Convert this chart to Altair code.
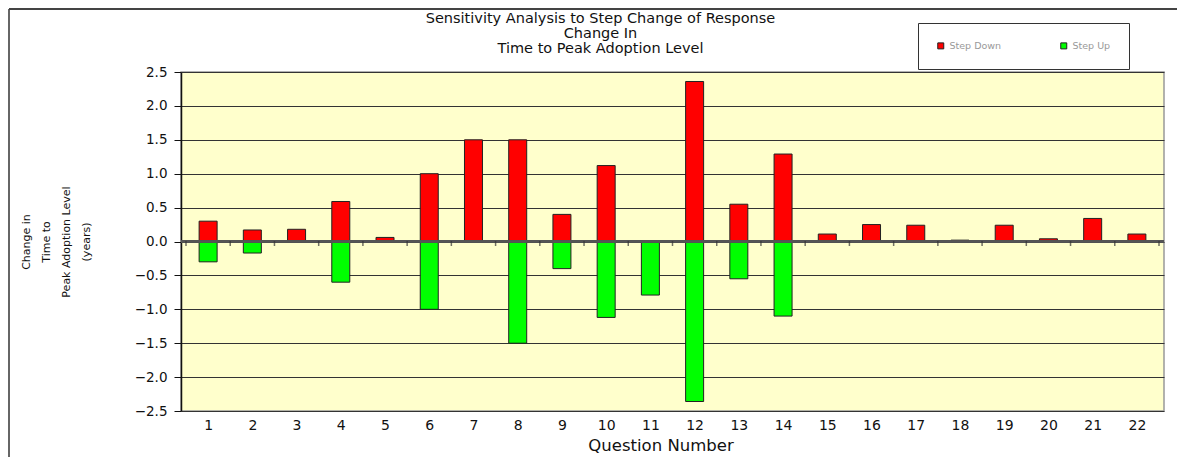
import altair as alt
import pandas as pd

questions = list(range(1, 23))
step_down = [0.30, 0.17, 0.18, 0.59, 0.06, 1.00, 1.50, 1.50, 0.40, 1.12, 0.00,
             2.36, 0.55, 1.29, 0.11, 0.25, 0.24, 0.02, 0.24, 0.04, 0.34, 0.11]
step_up = [-0.30, -0.17, 0.00, -0.60, 0.00, -1.00, 0.00, -1.50, -0.40, -1.12, -0.79,
           -2.36, -0.55, -1.10, 0.00, 0.00, 0.00, 0.00, 0.00, 0.00, 0.00, 0.00]
series_names = ["Step Down", "Step Up"]
series_colors = ["#FF0000", "#00FF00"]
y_ticks = [-2.5, -2.0, -1.5, -1.0, -0.5, 0.0, 0.5, 1.0, 1.5, 2.0, 2.5]

title_lines = ["Sensitivity Analysis to Step Change of Response", "Change In",
               "Time to Peak Adoption Level"]
y_title = ["Change in", "Time to", "Peak Adoption Level", "(years)"]
x_title = "Question Number"

rows = []
for q, d, u in zip(questions, step_down, step_up):
    rows.append({"q": q, "series": series_names[0], "value": d})
    rows.append({"q": q, "series": series_names[1], "value": u})
df = pd.DataFrame(rows)
df = df[df["value"] != 0]

bounds = pd.DataFrame({"b": [q - 0.5 for q in questions] + [questions[-1] + 0.5],
                       "zz": 0.0})

W, H = 983, 339
FONT = "DejaVu Sans"

xscale = alt.Scale(domain=[questions[0] - 0.5, questions[-1] + 0.5], nice=False, zero=False)
yscale = alt.Scale(domain=[y_ticks[0], y_ticks[-1]], nice=False)

x_axis = alt.Axis(values=questions, format="d", grid=False, ticks=False, domain=False,
                  labelFontSize=14, labelFont=FONT, labelColor="#111", labelPadding=7,
                  labelOverlap=False,
                  title=x_title, titleFont=FONT, titleFontSize=16.5, titleFontWeight="normal",
                  titleColor="#111", titlePadding=5, titleX=W / 2 - 12)
y_axis = alt.Axis(values=y_ticks, format=".1f", grid=True, gridColor="#333", gridWidth=1,
                  domainColor="#111", domainWidth=1.5, tickColor="#111", tickSize=7,
                  labelFontSize=13.5, labelFont=FONT, labelColor="#111", labelPadding=7,
                  labelOverlap=False, labelFlush=False,
                  title=y_title, titleFont=FONT, titleFontSize=11, titleFontWeight="normal",
                  titleColor="#111", titleLineHeight=20, titlePadding=43)

bars = alt.Chart(df).mark_bar(size=18, stroke="#222", strokeWidth=1).encode(
    x=alt.X("q:Q", scale=xscale, axis=x_axis),
    y=alt.Y("value:Q", scale=yscale, axis=y_axis),
    color=alt.Color("series:N", scale=alt.Scale(domain=series_names, range=series_colors),
                    legend=alt.Legend(orient="none", legendX=737, legendY=-49, direction="horizontal",
                                      title=None, symbolType="square", symbolSize=36,
                                      symbolStrokeColor="#222", symbolStrokeWidth=1,
                                      labelFontSize=9.5, labelFont=FONT, labelColor="#999",
                                      columnPadding=56, padding=18, strokeColor="#333",
                                      fillColor="white")),
)

ticks = alt.Chart(bounds).mark_tick(color="#333", thickness=1.5, size=5, orient="vertical", yOffset=2).encode(
    x=alt.X("b:Q", scale=xscale, axis=x_axis), y=alt.Y("zz:Q", scale=yscale, axis=y_axis)
)

zero = alt.Chart(bounds).mark_rule(color="#555", strokeWidth=1.5).encode(
    y=alt.Y("zz:Q", scale=yscale, axis=y_axis))

frame_left = alt.Chart(pd.DataFrame({"a": [0]})).mark_rule(color="#666", strokeWidth=2).encode(
    x=alt.value(-172), y=alt.value(-63), y2=alt.value(H + 46))
frame_top = alt.Chart(pd.DataFrame({"a": [0]})).mark_rule(color="#444", strokeWidth=2).encode(
    x=alt.value(-172), x2=alt.value(W + 20), y=alt.value(-63))

chart = alt.layer(bars, zero, ticks, frame_left, frame_top).properties(
    width=W, height=H,
    autosize=alt.AutoSizeParams(type="none"),
    padding={"left": 173, "top": 64, "right": 13, "bottom": 46},
    title=alt.TitleParams(text=title_lines, font=FONT, fontSize=14.5, fontWeight="normal",
                          color="#111", anchor="middle", dx=-72, dy=48, offset=0, lineHeight=15),
).configure_view(fill="#FFFFCC", stroke="#999", strokeWidth=1.5)

chart.save("out.html", embed_options={"renderer": "svg", "actions": False})
